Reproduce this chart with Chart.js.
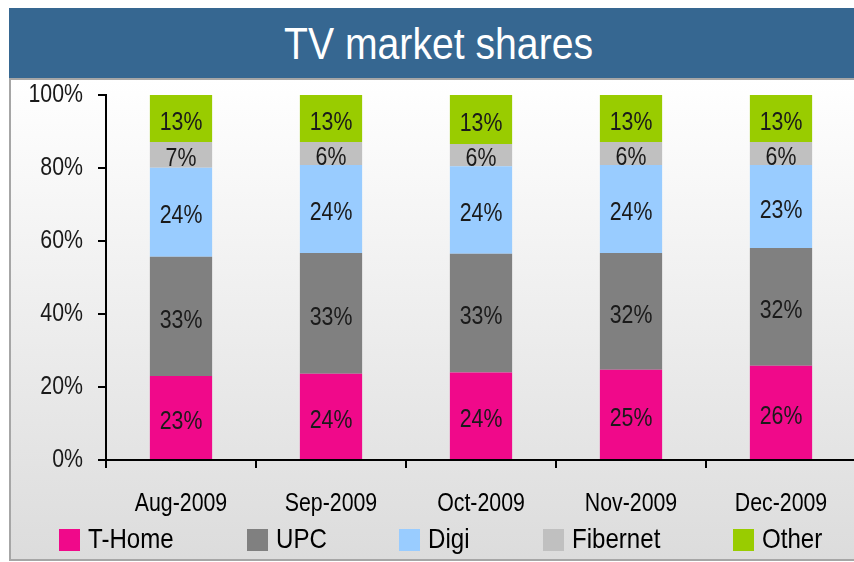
<!DOCTYPE html>
<html>
<head>
<meta charset="utf-8">
<script src="https://cdn.jsdelivr.net/npm/chart.js"></script>
<style>
  html, body { margin: 0; padding: 0; width: 854px; height: 562px; overflow: hidden; background: #fff; }
  body { position: relative; font-family: "Liberation Sans", Arial, sans-serif; }
  .narrow { display: inline-block; white-space: nowrap; }
  #titleBar {
    position: absolute; left: 9px; top: 8px; width: 860px; height: 70px;
    background: #366791; color: #fff; font-size: 45px; line-height: 72px; text-align: center;
  }
  #titleBar .narrow { transform: scaleX(0.87); }
  #titleLine { position: absolute; left: 9px; top: 78px; width: 860px; height: 2px; background: #a6a6a6; }
  #panel {
    position: absolute; left: 9px; top: 80px; width: 860px; height: 479px;
    border-left: 2px solid #a6a6a6; border-bottom: 2px solid #a6a6a6;
    background: linear-gradient(#ffffff, #dcdcdc);
  }
  #chart { position: absolute; left: 0; top: 0; }
  #legend { position: absolute; left: 48px; top: 445px; display: flex; font-size: 28px; line-height: 28px; color: #000; white-space: nowrap; }
  #legend .item { display: flex; align-items: flex-start; margin-right: 73px; }
  #legend .box { width: 21px; height: 22px; margin-top: 4px; margin-right: 8px; }
  #legend .narrow { transform: scaleX(0.86); transform-origin: 0 0; }
</style>
</head>
<body>
<div id="titleBar"><span class="narrow">TV market shares</span></div>
<div id="titleLine"></div>
<div id="panel">
  <canvas id="chart" width="860" height="479"></canvas>
  <div id="legend"></div>
</div>
<script>
const months = ['Aug-2009', 'Sep-2009', 'Oct-2009', 'Nov-2009', 'Dec-2009'];
const tHome = [23.0, 23.6, 24.0, 24.7, 25.8];
const upc = [32.7, 33.1, 32.5, 32.0, 32.3];
const digi = [24.4, 24.1, 24.0, 24.1, 22.7];
const fibernet = [7.0, 6.3, 6.1, 6.3, 6.3];
const other = [12.9, 12.9, 13.4, 12.9, 12.9];
const yTicks = [0, 20, 40, 60, 80, 100];
const narrow = 0.82; // the original uses a narrow face
const legendNarrow = 0.86;

document.addEventListener('DOMContentLoaded', function () {
    Chart.defaults.font.family = '"Liberation Sans", Arial, sans-serif';
    Chart.defaults.color = '#1a1a1a';

    // value labels in the middle of each segment
    const barLabels = {
        id: 'barLabels',
        afterDatasetsDraw(chart) {
            const ctx = chart.ctx;
            ctx.save();
            ctx.font = '26px "Liberation Sans", Arial, sans-serif';
            ctx.fillStyle = '#1a1a1a';
            ctx.textAlign = 'center';
            ctx.textBaseline = 'middle';
            chart.data.datasets.forEach(function (ds, i) {
                chart.getDatasetMeta(i).data.forEach(function (bar, j) {
                    const p = bar.getProps(['x', 'y', 'base'], true);
                    ctx.fillText(Math.round(ds.data[j]) + '%', p.x, (p.y + p.base) / 2 + 4);
                });
            });
            ctx.restore();
        }
    };

    const data = {
        labels: months,
        datasets: [
            { label: 'T-Home', data: tHome, backgroundColor: '#f0098a' },
            { label: 'UPC', data: upc, backgroundColor: '#808080' },
            { label: 'Digi', data: digi, backgroundColor: '#99ccff' },
            { label: 'Fibernet', data: fibernet, backgroundColor: '#c0c0c0' },
            { label: 'Other', data: other, backgroundColor: '#99cc00' }
        ]
    };

    const config = {
        type: 'bar',
        data: data,
        plugins: [barLabels],
        options: {
            responsive: false,
            animation: false,
            devicePixelRatio: 1,
            datasets: { bar: { barPercentage: 0.415, categoryPercentage: 1 } },
            layout: { padding: { top: 15, right: 15, bottom: 39, left: 0 } },
            plugins: { legend: { display: false }, tooltip: { enabled: false } },
            scales: {
                x: {
                    stacked: true,
                    grid: { offset: true, drawOnChartArea: false, color: '#000', lineWidth: 2, tickLength: 8 },
                    border: { color: '#000', width: 2 },
                    ticks: { font: { size: 26, lineHeight: 1.2 }, color: '#000', padding: 20, maxRotation: 0, autoSkip: false },
                    afterFit: function (s) { s.height = 60; }
                },
                y: {
                    stacked: true,
                    min: 0,
                    max: 100,
                    afterBuildTicks: function (s) { s.ticks = yTicks.map(function (v) { return { value: v }; }); },
                    grid: { drawOnChartArea: false, color: '#000', lineWidth: 2, tickLength: 8 },
                    border: { color: '#000', width: 2 },
                    ticks: { font: { size: 26, lineHeight: 1 }, color: '#1a1a1a', padding: 15,
                             callback: function (v) { return v + '%'; } },
                    afterFit: function (s) { s.width = 95; s.paddingTop = 0; s.paddingBottom = 0; }
                }
            }
        }
    };

    // squeeze canvas text horizontally to look like the narrow face
    const ctx = document.getElementById('chart').getContext('2d');
    const plainFill = ctx.fillText.bind(ctx);
    ctx.fillText = function (text, x, y) {
        plainFill(text, x, y, ctx.measureText(text).width * narrow);
    };

    const chart = new Chart(ctx, config);

    // legend built from the datasets
    const legend = document.getElementById('legend');
    chart.data.datasets.forEach(function (ds) {
        const item = document.createElement('div');
        item.className = 'item';
        const box = document.createElement('span');
        box.className = 'box';
        box.style.background = ds.backgroundColor;
        const txt = document.createElement('span');
        txt.className = 'narrow';
        txt.textContent = ds.label;
        item.appendChild(box);
        item.appendChild(txt);
        legend.appendChild(item);
        txt.style.marginRight = (-(1 - legendNarrow) * txt.offsetWidth) + 'px';
    });
});
</script>
</body>
</html>
